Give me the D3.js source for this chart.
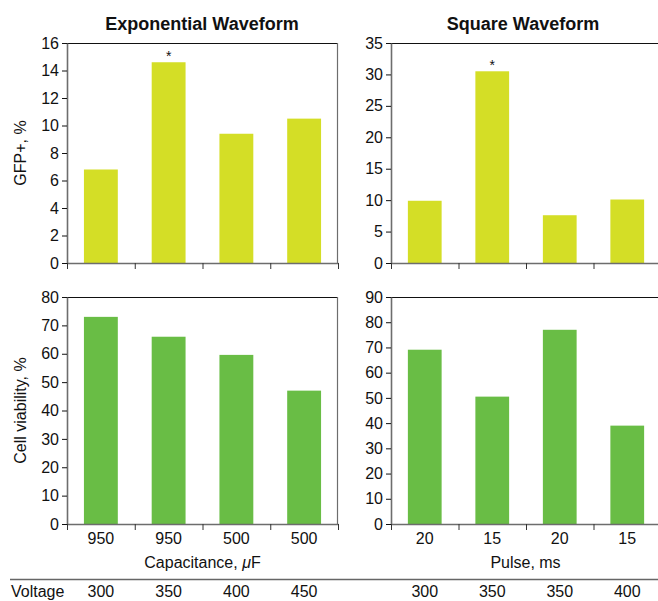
<!DOCTYPE html>
<html>
<head>
<meta charset="utf-8">
<script src="https://cdn.jsdelivr.net/npm/d3@7"></script>
<style>
  html, body { margin: 0; padding: 0; background: #fff; }
  svg { display: block; font-family: "Liberation Sans", Arial, Helvetica, sans-serif; }
</style>
</head>
<body>
<svg id="chart" width="658" height="601"></svg>
<script>
// Electroporation conditions
const capacitanceLabels = ["950", "950", "500", "500"];
const pulseLabels = ["20", "15", "20", "15"];
const voltageExp = ["300", "350", "400", "450"];
const voltageSq = ["300", "350", "350", "400"];

// Measured outcomes (%)
const gfpExp = [6.8, 14.6, 9.4, 10.5];
const gfpSq = [9.9, 30.5, 7.6, 10.1];
const viabilityExp = [73, 66, 59.6, 47];
const viabilitySq = [69.1, 50.5, 77, 39];

// Significance markers
const starsExp = [false, true, false, false];
const starsSq = [false, true, false, false];

// Axis tick values
const gfpExpTicks = [0, 2, 4, 6, 8, 10, 12, 14, 16];
const gfpSqTicks = [0, 5, 10, 15, 20, 25, 30, 35];
const viabExpTicks = [0, 10, 20, 30, 40, 50, 60, 70, 80];
const viabSqTicks = [0, 10, 20, 30, 40, 50, 60, 70, 80, 90];

const YELLOW = "#d4de26";
const GREEN = "#69bd45";
const AXIS_GREY = "#6d6d6d";
const FS = 16;

const svg = d3.select("#chart");

const cols = [{ x0: 67, x1: 338 }, { x0: 391, x1: 661 }];
const rows = [{ y0: 43, y1: 263 }, { y0: 297, y1: 524 }];

function panel(opts) {
  const { col, row, values, ticks, color, labels, stars } = opts;
  const c = cols[col], r = rows[row];
  const g = svg.append("g");

  const x = d3.scaleBand()
    .domain(d3.range(values.length))
    .range([c.x0, c.x1])
    .paddingInner(0.5)
    .paddingOuter(0.25);
  const xEdge = d3.scaleLinear().domain([0, values.length]).range([c.x0, c.x1]);
  const y = d3.scaleLinear().domain([0, d3.max(ticks)]).range([r.y1, r.y0]);

  // frame: top and right edges
  g.append("line")
    .attr("x1", c.x0).attr("x2", c.x1)
    .attr("y1", r.y0 + 0.5).attr("y2", r.y0 + 0.5)
    .attr("stroke", "#111").attr("stroke-width", 1);
  g.append("line")
    .attr("x1", c.x1 - 0.5).attr("x2", c.x1 - 0.5)
    .attr("y1", r.y0).attr("y2", r.y1)
    .attr("stroke", AXIS_GREY).attr("stroke-width", 1.2);

  // bars
  g.selectAll("rect.bar")
    .data(values)
    .join("rect")
    .attr("class", "bar")
    .attr("x", (d, i) => x(i))
    .attr("width", x.bandwidth())
    .attr("y", d => y(d))
    .attr("height", d => y(0) - y(d))
    .attr("fill", color);

  // significance stars
  if (stars) {
    g.selectAll("text.star")
      .data(values.map((v, i) => ({ v, i })).filter(d => stars[d.i]))
      .join("text")
      .attr("class", "star")
      .attr("x", d => x(d.i) + x.bandwidth() / 2)
      .attr("y", d => y(d.v) - 1)
      .attr("text-anchor", "middle")
      .attr("font-size", 14)
      .attr("fill", "#111")
      .text("*");
  }

  // y axis
  const ya = g.append("g")
    .attr("transform", `translate(${c.x0},0)`)
    .call(d3.axisLeft(y).tickValues(ticks).tickSizeInner(5).tickSizeOuter(0).tickPadding(3));
  ya.select(".domain").attr("stroke", AXIS_GREY).attr("stroke-width", 1.6);
  ya.selectAll(".tick line").attr("stroke", "#111");
  ya.selectAll(".tick text").attr("font-size", FS).attr("fill", "#111")
    .attr("font-family", "'Liberation Sans', Arial, sans-serif");

  // x axis: boundary ticks
  const xa = g.append("g")
    .attr("transform", `translate(0,${r.y1})`)
    .call(d3.axisBottom(xEdge).tickValues(d3.range(values.length + 1))
      .tickFormat("").tickSizeInner(6).tickSizeOuter(0));
  xa.select(".domain").attr("stroke", AXIS_GREY).attr("stroke-width", 1.6);
  xa.selectAll(".tick line").attr("stroke", "#333");

  // x axis: category labels
  if (labels) {
    const xl = g.append("g")
      .attr("transform", `translate(0,${r.y1})`)
      .call(d3.axisBottom(x).tickFormat(i => labels[i]).tickSize(0).tickPadding(9));
    xl.select(".domain").remove();
    xl.selectAll(".tick text").attr("font-size", FS).attr("fill", "#111")
      .attr("font-family", "'Liberation Sans', Arial, sans-serif");
  }
  return { x, y };
}

const tl = panel({ col: 0, row: 0, values: gfpExp, ticks: gfpExpTicks, color: YELLOW, stars: starsExp });
const tr = panel({ col: 1, row: 0, values: gfpSq, ticks: gfpSqTicks, color: YELLOW, stars: starsSq });
const bl = panel({ col: 0, row: 1, values: viabilityExp, ticks: viabExpTicks, color: GREEN, labels: capacitanceLabels });
const br = panel({ col: 1, row: 1, values: viabilitySq, ticks: viabSqTicks, color: GREEN, labels: pulseLabels });

// Panel titles
svg.append("text").attr("x", 202).attr("y", 30).attr("text-anchor", "middle")
  .attr("font-size", 18).attr("font-weight", "bold").attr("fill", "#111")
  .text("Exponential Waveform");
svg.append("text").attr("x", 523).attr("y", 30).attr("text-anchor", "middle")
  .attr("font-size", 18).attr("font-weight", "bold").attr("fill", "#111")
  .text("Square Waveform");

// Y axis titles
svg.append("text")
  .attr("transform", `translate(26,${(rows[0].y0 + rows[0].y1) / 2}) rotate(-90)`)
  .attr("text-anchor", "middle").attr("font-size", FS).attr("fill", "#111")
  .text("GFP+, %");
svg.append("text")
  .attr("transform", `translate(26,${(rows[1].y0 + rows[1].y1) / 2}) rotate(-90)`)
  .attr("text-anchor", "middle").attr("font-size", FS).attr("fill", "#111")
  .text("Cell viability, %");

// X axis titles
const capTitle = svg.append("text").attr("x", 202.5).attr("y", 568)
  .attr("text-anchor", "middle").attr("font-size", FS).attr("fill", "#111");
capTitle.append("tspan").text("Capacitance, ");
capTitle.append("tspan").attr("font-style", "italic").text("\u03bc");
capTitle.append("tspan").text("F");
svg.append("text").attr("x", 525.5).attr("y", 568)
  .attr("text-anchor", "middle").attr("font-size", FS).attr("fill", "#111")
  .text("Pulse, ms");

// Voltage row
svg.append("line").attr("x1", 10).attr("x2", 658).attr("y1", 579.5).attr("y2", 579.5)
  .attr("stroke", "#666").attr("stroke-width", 1.5);
svg.append("text").attr("x", 11).attr("y", 597).attr("font-size", FS).attr("fill", "#111")
  .text("Voltage");
svg.selectAll("text.vexp").data(voltageExp).join("text").attr("class", "vexp")
  .attr("x", (d, i) => bl.x(i) + bl.x.bandwidth() / 2).attr("y", 597)
  .attr("text-anchor", "middle").attr("font-size", FS).attr("fill", "#111").text(d => d);
svg.selectAll("text.vsq").data(voltageSq).join("text").attr("class", "vsq")
  .attr("x", (d, i) => br.x(i) + br.x.bandwidth() / 2).attr("y", 597)
  .attr("text-anchor", "middle").attr("font-size", FS).attr("fill", "#111").text(d => d);
</script>
</body>
</html>
